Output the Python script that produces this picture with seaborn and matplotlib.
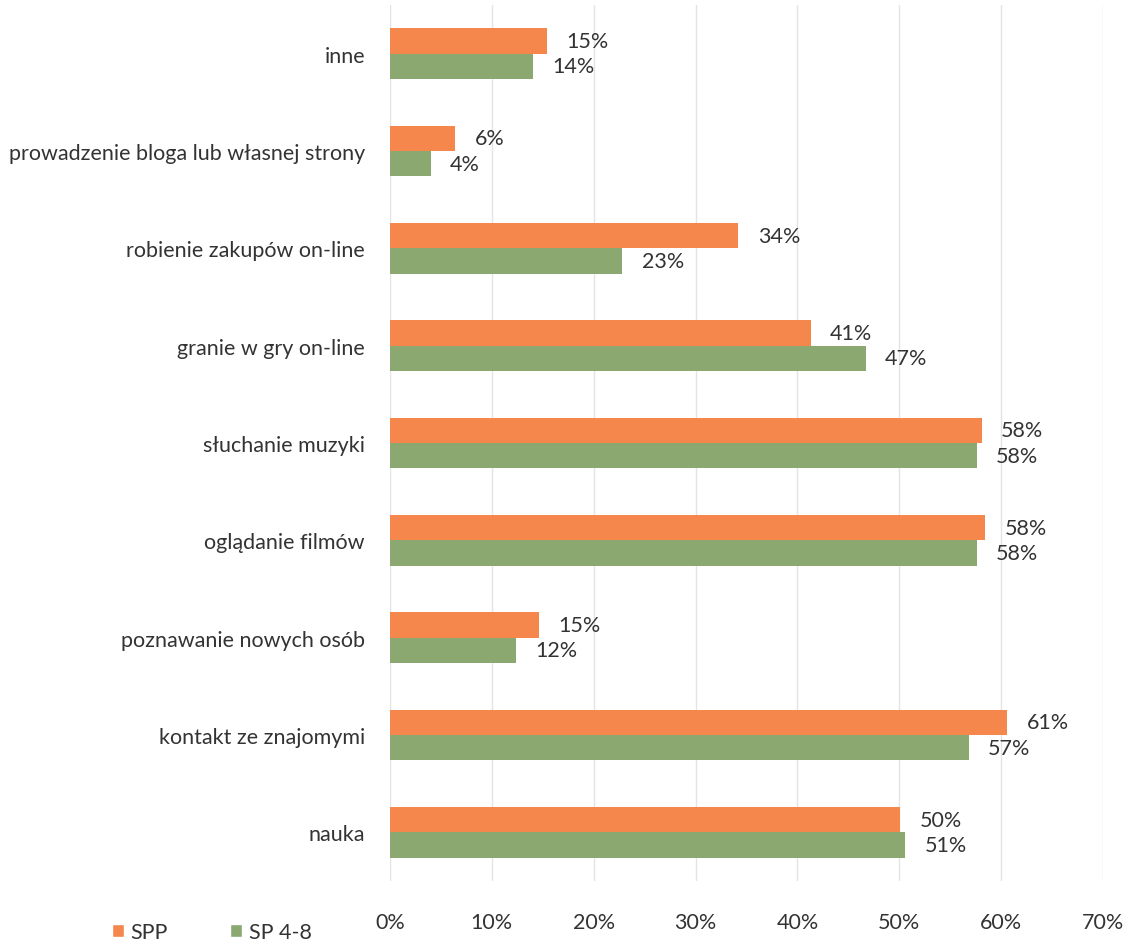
import matplotlib
matplotlib.use("Agg")
import matplotlib.pyplot as plt
import seaborn as sns
import pandas as pd
from matplotlib.ticker import PercentFormatter
from matplotlib.patches import Patch

categories = ["inne", "prowadzenie bloga lub własnej strony", "robienie zakupów on-line",
              "granie w gry on-line", "słuchanie muzyki", "oglądanie filmów",
              "poznawanie nowych osób", "kontakt ze znajomymi", "nauka"]
series = ["SPP", "SP 4-8"]
spp = [15.4, 6.4, 34.2, 41.3, 58.1, 58.4, 14.6, 60.6, 50.1]
sp48 = [14.0, 4.0, 22.8, 46.7, 57.6, 57.6, 12.4, 56.8, 50.6]
xticks = [0, 10, 20, 30, 40, 50, 60, 70]
colors = ["#F5864C", "#8AA870"]

df = pd.DataFrame({
    "cat": categories * 2,
    "val": spp + sp48,
    "grp": [series[0]] * len(categories) + [series[1]] * len(categories),
})

sns.set_style("white")
plt.rcParams["font.family"] = ["Lato", "DejaVu Sans"]

fig = plt.figure(figsize=(11.31, 9.45), dpi=100)
ax = fig.add_axes([390/1131, 1-882/945, (1103-390)/1131, (882-6)/945])

sns.barplot(data=df, y="cat", x="val", hue="grp", order=categories, hue_order=series,
            palette=colors, orient="h", width=0.52, gap=0.0, saturation=1,
            legend=False, ax=ax, errorbar=None, linewidth=0)

for cont in ax.containers:
    ax.bar_label(cont, labels=[f"{v:.0f}%" for v in cont.datavalues], padding=14,
                 fontsize=15.5, color="#333333")

ax.set_xlim(0, 70)
ax.set_ylim(8.5, -0.5)
ax.set_xticks(xticks)
ax.xaxis.set_major_formatter(PercentFormatter(decimals=0))
ax.grid(axis="x", color="#E4E4E4", linewidth=1)
ax.set_axisbelow(True)
for s in ax.spines.values():
    s.set_visible(False)
ax.tick_params(axis="x", length=0, pad=22, labelsize=15.5, labelcolor="#333333")
ax.tick_params(axis="y", length=0, pad=18, labelsize=15.5, labelcolor="#333333")
ax.set_xlabel("")
ax.set_ylabel("")

handles = [Patch(facecolor=c, label=s) for c, s in zip(colors, series)]
fig.legend(handles=handles, loc="lower left", bbox_to_anchor=(93/1131, -0.018), ncol=2,
           frameon=False, fontsize=15.5, handlelength=0.55, handleheight=0.55,
           handletextpad=0.3, columnspacing=2.9, labelcolor="#333333")

fig.savefig("out.png", dpi=100)
